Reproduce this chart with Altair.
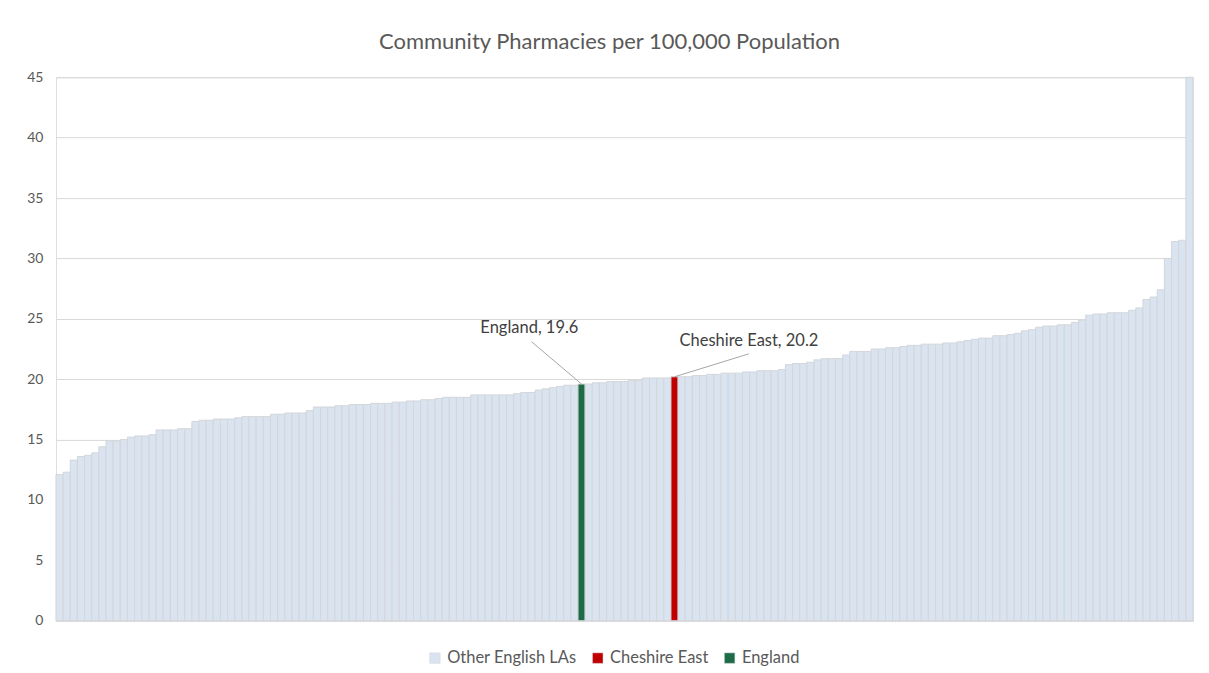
import altair as alt
import pandas as pd

# Community pharmacies per 100,000 population, English LAs sorted ascending
values = [
    12.1, 12.3, 13.3, 13.6, 13.7, 13.9, 14.4, 14.9, 14.9, 15.0,
    15.2, 15.3, 15.3, 15.4, 15.8, 15.8, 15.8, 15.9, 15.9, 16.5,
    16.6, 16.6, 16.7, 16.7, 16.7, 16.8, 16.9, 16.9, 16.9, 16.9,
    17.1, 17.1, 17.2, 17.2, 17.2, 17.4, 17.7, 17.7, 17.7, 17.8,
    17.8, 17.9, 17.9, 17.9, 18.0, 18.0, 18.0, 18.1, 18.1, 18.2,
    18.2, 18.3, 18.3, 18.4, 18.5, 18.5, 18.5, 18.5, 18.7, 18.7,
    18.7, 18.7, 18.7, 18.7, 18.8, 18.9, 18.9, 19.1, 19.2, 19.3,
    19.4, 19.5, 19.5, 19.6, 19.6, 19.7, 19.7, 19.8, 19.8, 19.8,
    19.9, 19.9, 20.1, 20.1, 20.1, 20.1, 20.2, 20.2, 20.2, 20.3,
    20.3, 20.4, 20.4, 20.5, 20.5, 20.5, 20.6, 20.6, 20.7, 20.7,
    20.7, 20.8, 21.2, 21.3, 21.3, 21.4, 21.6, 21.7, 21.7, 21.7,
    22.0, 22.3, 22.3, 22.3, 22.5, 22.5, 22.6, 22.6, 22.7, 22.8,
    22.8, 22.9, 22.9, 22.9, 23.0, 23.0, 23.1, 23.2, 23.3, 23.4,
    23.4, 23.6, 23.6, 23.7, 23.8, 24.0, 24.1, 24.3, 24.4, 24.4,
    24.5, 24.5, 24.7, 24.9, 25.3, 25.4, 25.4, 25.5, 25.5, 25.5,
    25.7, 25.9, 26.6, 26.8, 27.4, 30.0, 31.4, 31.5, 45.0,
]
series_names = ["Other English LAs", "Cheshire East", "England"]
series_colors = ["#dae3f0", "#c00000", "#1e6c47"]
highlight_index = {"England": 73, "Cheshire East": 86}
y_ticks = [0, 5, 10, 15, 20, 25, 30, 35, 40, 45]

n = len(values)
groups = ["Other English LAs"] * n
for name, i in highlight_index.items():
    groups[i] = name

df = pd.DataFrame({"idx": list(range(n)), "value": values, "group": groups})
df["idx_end"] = df["idx"] + 1

# annotation callouts (label offsets in data units relative to the bar top)
callout_offsets = {"England": (-7.0, 3.5, -7.3, 4.6), "Cheshire East": (10.4, 1.9, 10.4, 3.0)}
rows = []
for name, i in highlight_index.items():
    v = values[i]
    lx, ly, tx, ty = callout_offsets[name]
    rows.append({
        "label": f"{name}, {v}",
        "px": i + 0.5, "py": v,
        "lx": i + 0.5 + lx, "ly": v + ly,
        "tx": i + 0.5 + tx, "ty": v + ty,
    })
ann = pd.DataFrame(rows)

FONT = "Lato"
xscale = alt.Scale(domain=[0, n], nice=False, zero=False)
yscale = alt.Scale(domain=[0, 45], nice=False, zero=True)

bars = alt.Chart(df).mark_bar(stroke="#d3d6da", strokeWidth=1).encode(
    x=alt.X("idx:Q", scale=xscale, axis=None),
    x2="idx_end:Q",
    y=alt.Y("value:Q", scale=yscale, title=None,
            axis=alt.Axis(values=y_ticks, domain=False, ticks=False, labelPadding=13,
                          labelFontSize=14, labelColor="#595959", labelFont=FONT,
                          gridColor="#d9d9d9", gridWidth=1)),
    y2=alt.datum(0),
    color=alt.Color("group:N",
                    scale=alt.Scale(domain=series_names, range=series_colors),
                    legend=alt.Legend(title=None, orient="none", direction="horizontal",
                                      legendX=371, legendY=573,
                                      symbolType="square", symbolSize=110,
                                      symbolStrokeColor="#d3d6da", symbolStrokeWidth=0.5,
                                      labelFontSize=16.5, labelColor="#595959", labelFont=FONT,
                                      columnPadding=12)),
)

rules = alt.Chart(ann).mark_rule(color="#a6a6a6", strokeWidth=1).encode(
    x=alt.X("px:Q", scale=xscale), y=alt.Y("py:Q", scale=yscale),
    x2="lx:Q", y2="ly:Q",
)

labels = alt.Chart(ann).mark_text(fontSize=16.5, color="#404040", font=FONT,
                                  align="center", baseline="middle").encode(
    x=alt.X("tx:Q", scale=xscale), y=alt.Y("ty:Q", scale=yscale), text="label:N",
)

chart = alt.layer(bars, rules, labels).properties(
    width=1138, height=544,
    padding={"left": 48, "top": 69, "right": 8, "bottom": 50},
    autosize=alt.AutoSizeParams(type="none"),
    title=alt.TitleParams("Community Pharmacies per 100,000 Population", fontSize=22,
                          color="#595959", font=FONT, fontWeight="normal",
                          anchor="middle", frame="group", dx=-15, offset=16),
).configure_view(strokeWidth=0, stroke="transparent").configure(background="white")

chart.save("out.html", embed_options={"renderer": "svg", "actions": False})
